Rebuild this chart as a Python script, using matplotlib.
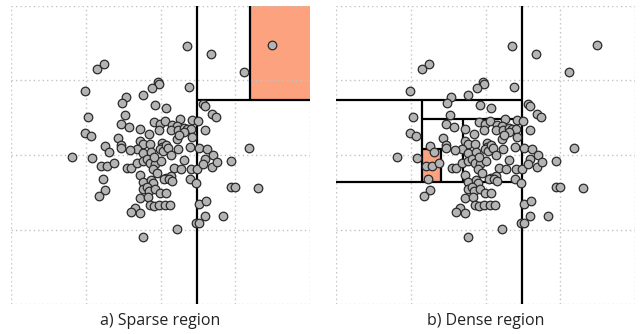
import matplotlib.pyplot as plt
from matplotlib.patches import Rectangle

# point cloud (same data in both panels), grid units: one cell = 75
px = [177, 201, 262, 234, 86, 93, 74, 147, 148, 141, 179, 115, 111, 132, 144, 156,
      193, 195, 114, 77, 202, 206, 110, 118, 143, 149, 155, 170, 182, 188, 162, 167,
      161, 168, 174, 177, 181, 174, 129, 148, 195, 74, 80, 138, 167, 182, 107, 94,
      98, 110, 110, 129, 132, 139, 152, 152, 126, 119, 132, 140, 149, 153, 156, 158,
      168, 180, 189, 197, 239, 61, 81, 90, 96, 103, 116, 120, 126, 132, 136, 139,
      144, 151, 161, 174, 164, 171, 181, 187, 203, 195, 193, 202, 207, 221, 129, 142,
      146, 156, 154, 161, 159, 162, 132, 140, 142, 180, 186, 92, 94, 88, 132, 136,
      138, 144, 149, 156, 221, 225, 248, 129, 137, 139, 143, 148, 155, 160, 124, 120,
      129, 189, 196, 195, 213, 186, 189, 167, 132, 169, 143]
py = [260, 252, 261, 234, 237, 242, 214, 223, 221, 217, 218, 208, 202, 210, 200, 197,
      201, 199, 190, 188, 191, 188, 181, 178, 183, 181, 184, 186, 185, 184, 180, 179,
      175, 175, 177, 176, 176, 173, 176, 175, 175, 172, 169, 171, 166, 168, 167, 159,
      153, 160, 157, 164, 161, 161, 162, 158, 156, 155, 152, 153, 156, 154, 160, 157,
      156, 158, 157, 156, 157, 148, 147, 139, 139, 142, 137, 137, 142, 144, 146, 142,
      141, 144, 150, 145, 137, 136, 136, 136, 150, 146, 141, 138, 143, 144, 130, 136,
      132, 127, 126, 129, 126, 124, 123, 125, 122, 126, 122, 126, 115, 109, 116, 118,
      114, 116, 112, 112, 118, 118, 117, 107, 108, 100, 99, 100, 100, 100, 97, 93,
      92, 101, 104, 89, 89, 82, 82, 76, 67, 170, 148]

grid_ticks = [0, 75, 150, 225, 300]

# split lines: (x0, x1, y0, y1)
sparse_splits = [(187, 187, 0, 300), (187, 300, 205, 205), (240, 240, 205, 300)]
sparse_cell = (240, 205, 60, 95)
dense_splits = [(187, 187, 0, 300), (0, 187, 205, 205), (0, 187, 123, 123),
                (86, 86, 123, 205), (86, 187, 186, 186), (127, 127, 123, 186),
                (86, 127, 156, 156), (105, 105, 123, 156)]
dense_cell = (86, 123, 19, 33)

captions = ["a) Sparse region", "b) Dense region"]


def draw_panel(ax, splits, cell, caption):
    ax.set_xlim(0, 300)
    ax.set_ylim(0, 300)
    for s in ax.spines.values():
        s.set_visible(False)
    ax.set_xticks([])
    ax.set_yticks([])
    ax.add_patch(Rectangle(cell[:2], cell[2], cell[3], facecolor='#fca27e',
                           edgecolor='none', zorder=1))
    for t in grid_ticks:
        ax.axvline(t, color='#c2c2c2', lw=1, ls=(0, (1, 2.2)), zorder=2)
        ax.axhline(t, color='#c2c2c2', lw=1, ls=(0, (1, 2.2)), zorder=2)
    for x0, x1, y0, y1 in splits:
        ax.plot([x0, x1], [y0, y1], color='black', lw=1.6, zorder=3,
                solid_capstyle='butt')
    ax.scatter(px, py, s=38, facecolor='#b4b4b4', edgecolor='#2a2a2a',
               linewidth=0.9, zorder=4, clip_on=False)
    ax.text(0.5, -0.03, caption, transform=ax.transAxes, ha='center',
            va='top', fontsize=11.5, color='#222222', family='Open Sans')


fig = plt.figure(figsize=(6.4, 3.34), dpi=100)
ax1 = fig.add_axes([11 / 640, 30 / 334, 299 / 640, 298 / 334])
ax2 = fig.add_axes([336 / 640, 30 / 334, 299 / 640, 298 / 334])
draw_panel(ax1, sparse_splits, sparse_cell, captions[0])
draw_panel(ax2, dense_splits, dense_cell, captions[1])

fig.savefig('out.png', dpi=100)
